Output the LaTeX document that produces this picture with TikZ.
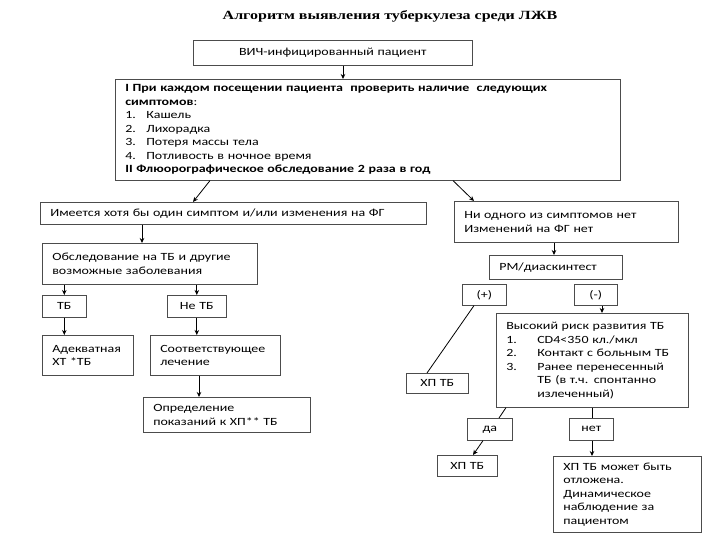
\documentclass[tikz,border=0pt]{standalone}
\usepackage{fontspec}
\usetikzlibrary{arrows.meta,calc}
\newfontfamily\txtfont[FakeStretch=1.27]{Carlito}
\newfontfamily\ttlfont[FakeStretch=1.28]{Liberation Serif}
\newcommand\txt{\txtfont\fontsize{11}{13.5}\selectfont}
\newcommand\num[1]{\makebox[21pt][l]{#1}}
\newcommand\numr[1]{\makebox[31pt][l]{#1}}
\tikzset{
  box/.style={draw=black!70, line width=0.6pt, fill=white, anchor=north west,
    inner xsep=10pt, inner ysep=0pt, align=left, font=\txt, text=black},
  arr/.style={-{Stealth[length=5pt,width=4.5pt]}, line width=0.8pt, black},
  ln/.style={line width=0.8pt, black}
}
\begin{document}
\begin{tikzpicture}[x=1pt,y=-1pt]
\useasboundingbox[fill=white] (0,0) rectangle (720,540);
\node[font=\ttlfont\bfseries\fontsize{12.5}{14}\selectfont] (title) at (390,16) {Алгоритм выявления туберкулеза среди ЛЖВ};
\node[box, align=center, minimum width=279pt, minimum height=25pt, text width=259pt] (b1) at (193,40) {ВИЧ-инфицированный пациент};
\node[box, minimum width=505pt, minimum height=101pt, text width=485pt] (b2) at (115,79) {\textbf{I При каждом посещении пациента\ \ проверить наличие\ \ следующих}\\
\textbf{симптомов}:\\
\num{1.}Кашель\\
\num{2.}Лихорадка\\
\num{3.}Потеря массы тела\\
\num{4.}Потливость в ночное время\\
\textbf{II Флюорографическое обследование 2 раза в год}};
\node[box, minimum width=386pt, minimum height=22pt, text width=366pt] (b3) at (40,202) {Имеется хотя бы один симптом и/или изменения на ФГ};
\node[box, minimum width=224pt, minimum height=41pt, text width=204pt] (b4) at (454,201) {Ни одного из симптомов нет\\Изменений на ФГ нет};
\node[box, minimum width=215pt, minimum height=41pt, text width=195pt] (b5) at (42,243) {Обследование на ТБ и другие\\возможные заболевания};
\node[box, align=center, minimum width=44pt, minimum height=22pt, text width=24pt] (tb) at (42,295) {ТБ};
\node[box, align=center, minimum width=59pt, minimum height=22pt, text width=39pt] (ntb) at (167,295) {Не ТБ};
\node[box, minimum width=91pt, minimum height=40pt, text width=71pt] (adk) at (42,335) {Адекватная\\ХТ *ТБ};
\node[box, minimum width=130pt, minimum height=40pt, text width=110pt] (sot) at (150,335) {Соответствующее\\лечение};
\node[box, minimum width=167pt, minimum height=35pt, text width=147pt] (opr) at (143,397) {Определение\\показаний к ХП** ТБ};
\node[box, minimum width=133pt, minimum height=24pt, text width=113pt] (rm) at (489,255) {РМ/диаскинтест};
\node[box, align=center, minimum width=44pt, minimum height=21pt, text width=24pt] (pl) at (462,284) {(+)};
\node[box, align=center, minimum width=43pt, minimum height=21pt, text width=23pt] (mn) at (574,284) {(-)};
\node[box, minimum width=192pt, minimum height=94pt, text width=172pt] (rk) at (496,313) {Высокий риск развития ТБ\\
\numr{1.}CD4<350 кл./мкл\\
\numr{2.}Контакт с больным ТБ\\
\numr{3.}Ранее перенесенный\\
\hspace*{31pt}ТБ (в т.ч. спонтанно\\
\hspace*{31pt}излеченный)};
\node[box, align=center, minimum width=62pt, minimum height=20pt, text width=42pt] (xp1) at (406,373) {ХП ТБ};
\node[box, align=center, minimum width=45pt, minimum height=22pt, text width=25pt] (da) at (467,418) {да};
\node[box, align=center, minimum width=44pt, minimum height=22pt, text width=24pt] (net) at (569,418) {нет};
\node[box, align=center, minimum width=60pt, minimum height=21pt, text width=40pt] (xp2) at (437,455) {ХП ТБ};
\node[box, minimum width=148pt, minimum height=76pt, text width=128pt] (fin) at (553,456) {ХП ТБ может быть\\отложена.\\Динамическое\\наблюдение за\\пациентом};
% connectors
\draw[arr] ($(b1.south west)+(150,0)$) -- ($(b2.north west)+(228,0)$);
\draw[arr] ($(b2.south west)+(95,0)$) -- ($(b3.north west)+(153,0)$);
\draw[arr] ($(b2.south west)+(338,0)$) -- ($(b4.north west)+(20,0)$);
\draw[arr] ($(b3.south west)+(102,0)$) -- ($(b5.north west)+(100,0)$);
\draw[arr] (b5.south -| tb.north) -- (tb.north);
\draw[arr] (b5.south -| ntb.north) -- (ntb.north);
\draw[arr] (tb.south) -- (tb.south |- adk.north);
\draw[arr] (ntb.south) -- (ntb.south |- sot.north);
\draw[arr] ($(sot.south west)+(49,0)$) -- ($(opr.north west)+(56,0)$);
\draw[arr] ($(b4.south west)+(100,0)$) -- ($(rm.north west)+(65,0)$);
\draw[arr] ($(mn.south west)+(28,0)$) -- ($(rk.north west)+(106,0)$);
\draw[ln] ($(pl.south west)+(12,0)$) -- ($(xp1.north west)+(21,0)$);
\draw[ln] ($(rk.south west)+(10,0)$) -- ($(da.north west)+(32,0)$);
\draw[arr] ($(da.south west)+(16,0)$) -- ($(xp2.north west)+(36,0)$);
\draw[ln] ($(rk.south west)+(96,0)$) -- ($(net.north west)+(23,0)$);
\draw[arr] ($(net.south west)+(23,0)$) -- ($(fin.north west)+(39,0)$);
\end{tikzpicture}
\end{document}
